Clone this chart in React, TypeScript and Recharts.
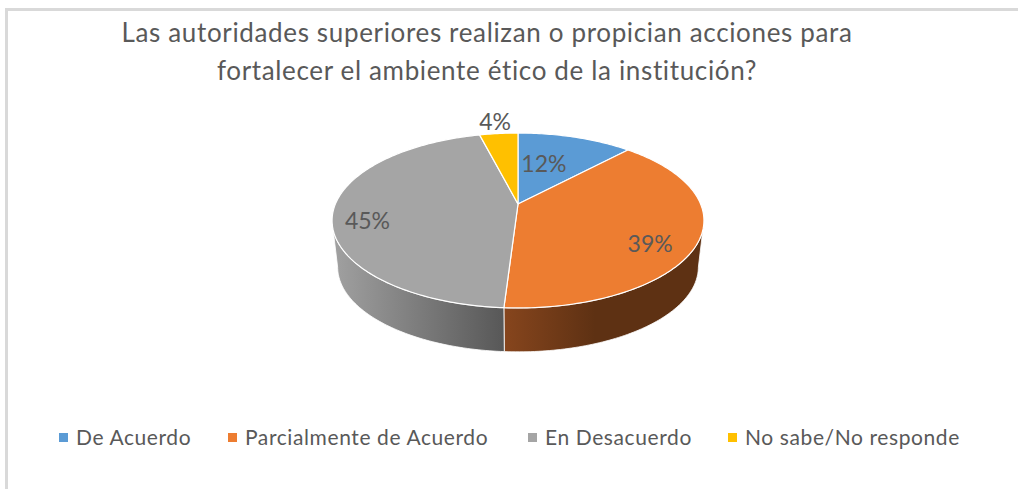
import { Legend, Pie, PieChart } from "recharts";

const categories = ["De Acuerdo", "Parcialmente de Acuerdo", "En Desacuerdo", "No sabe/No responde"];
const shares = [12, 39, 45, 4];
const sliceColors = ["#5b9bd5", "#ed7d31", "#a5a5a5", "#ffc000"];
const titleLines = [
  "Las autoridades superiores realizan o propician acciones para",
  "fortalecer el ambiente ético de la institución?",
];

const pieData = categories.map((name, i) => ({ name, value: shares[i], fill: sliceColors[i] }));

// where each percentage sits: along the radius (1 = rim), then nudged in pixels
const labelSpot: Record<string, { reach: number; dx: number; dy: number }> = {
  "De Acuerdo": { reach: 0.5, dx: -5, dy: -5 },
  "Parcialmente de Acuerdo": { reach: 0.75, dx: -1, dy: 12 },
  "En Desacuerdo": { reach: 0.8, dx: -3, dy: 10 },
  "No sabe/No responde": { reach: 1.17, dx: -1, dy: -3 },
};

const wallFill: Record<string, string> = {
  "Parcialmente de Acuerdo": "url(#wallOrange)",
  "En Desacuerdo": "url(#wallGray)",
};

const legendItemWidth: Record<string, number> = {
  "De Acuerdo": 169,
  "Parcialmente de Acuerdo": 300,
  "En Desacuerdo": 200,
  "No sabe/No responde": 240,
};

// tilted disc with perspective: the far edge is closer to the centre than the near one
const SQUASH = 0.462;
const PERSPECTIVE = 0.1886;
const DEPTH = 47;
const FLOOR_SCALE = 0.97;
// the rim turns out of sight at these clockwise angles from the top
const WALL_FROM = 101;
const WALL_TO = 259;

const textColor = "#595959";
const fontFamily = "Lato, 'Open Sans', sans-serif";

function project(cx: number, cy: number, radius: number, clockDeg: number, reach = 1) {
  const rad = (clockDeg * Math.PI) / 180;
  const u = reach * Math.sin(rad);
  const v = reach * Math.cos(rad);
  const d = 1 + PERSPECTIVE * v;
  return { x: cx + (radius * u) / d, y: cy - (radius * SQUASH * v) / d };
}

function arcPoints(cx: number, cy: number, radius: number, from: number, to: number) {
  const steps = Math.max(2, Math.ceil(Math.abs(to - from)));
  const pts = [];
  for (let i = 0; i <= steps; i++) {
    pts.push(project(cx, cy, radius, from + ((to - from) * i) / steps));
  }
  return pts;
}

const toPath = (pts: { x: number; y: number }[]) =>
  pts.map((p, i) => `${i ? "L" : "M"}${p.x.toFixed(2)},${p.y.toFixed(2)}`).join(" ");

function Slice3D(props: any) {
  const { cx, cy, outerRadius, startAngle, endAngle, fill, name } = props;
  const from = 90 - startAngle;
  const to = 90 - endAngle;
  const rim = arcPoints(cx, cy, outerRadius, from, to);

  const wallStart = Math.max(from, WALL_FROM);
  const wallEnd = Math.min(to, WALL_TO);
  let wall = null;
  if (wallEnd > wallStart) {
    const upper = arcPoints(cx, cy, outerRadius, wallStart, wallEnd);
    const lower = upper
      .map((p) => ({ x: cx + (p.x - cx) * FLOOR_SCALE, y: cy + (p.y - cy) * FLOOR_SCALE + DEPTH }))
      .reverse();
    wall = <path d={`${toPath(upper)} ${toPath(lower).replace("M", "L")} Z`} fill={wallFill[name]} stroke="#ffffff" strokeWidth={0.8} />;
  }

  return (
    <g>
      {wall}
      <path d={`M${cx},${cy} ${toPath(rim).replace("M", "L")} Z`} fill={fill} stroke="#ffffff" strokeWidth={1.2} strokeLinejoin="round" />
    </g>
  );
}

function renderShare(props: any) {
  const { cx, cy, outerRadius, midAngle, name, value } = props;
  const spot = labelSpot[name];
  const p = project(cx, cy, outerRadius, 90 - midAngle, spot.reach);
  return (
    <text x={p.x + spot.dx} y={p.y + spot.dy} textAnchor="middle" dominantBaseline="central" fill={textColor} fontSize={23} fontFamily={fontFamily}>
      {`${value}%`}
    </text>
  );
}

function renderLegend(props: any) {
  return (
    <div style={{ display: "flex", fontFamily, fontSize: 21, color: textColor, letterSpacing: 0.6, whiteSpace: "nowrap", lineHeight: "24px" }}>
      {props.payload.map((entry: any) => (
        <span key={entry.value} style={{ display: "inline-flex", alignItems: "center", width: legendItemWidth[entry.value] }}>
          <span style={{ width: 9, height: 9, marginRight: 8, background: entry.color }} />
          {entry.value}
        </span>
      ))}
    </div>
  );
}

export default function App() {
  return (
    <div style={{ position: "absolute", left: 0, top: 0, width: 1018, height: 489, background: "#ffffff", overflow: "hidden" }}>
      <div style={{ position: "absolute", left: 5, top: 8, width: 1013, height: 481, borderTop: "3px solid #d9d9d9", borderLeft: "3px solid #d9d9d9", boxSizing: "border-box" }} />
      <div
        style={{
          position: "absolute",
          left: 0,
          top: 13,
          width: 974,
          textAlign: "center",
          fontFamily,
          fontSize: 26,
          lineHeight: "38px",
          letterSpacing: 0.65,
          color: textColor,
          whiteSpace: "nowrap",
        }}
      >
        {titleLines.map((line) => (
          <div key={line}>{line}</div>
        ))}
      </div>
      <div style={{ position: "absolute", left: 0, top: 0 }}>
        <PieChart width={1018} height={489} margin={{ top: 0, right: 0, bottom: 0, left: 0 }}>
          <defs>
            <linearGradient id="wallGray" gradientUnits="userSpaceOnUse" x1="335" y1="0" x2="505" y2="0">
              <stop offset="0%" stopColor="#a0a0a0" />
              <stop offset="100%" stopColor="#575757" />
            </linearGradient>
            <linearGradient id="wallOrange" gradientUnits="userSpaceOnUse" x1="505" y1="0" x2="705" y2="0">
              <stop offset="0%" stopColor="#86451d" />
              <stop offset="45%" stopColor="#5e3113" />
              <stop offset="100%" stopColor="#5e3113" />
            </linearGradient>
          </defs>
          <Pie
            data={pieData}
            dataKey="value"
            nameKey="name"
            cx={518}
            cy={204}
            outerRadius={182.6}
            startAngle={90}
            endAngle={-270}
            isAnimationActive={false}
            shape={Slice3D}
            label={renderShare}
            labelLine={false}
          />
          <Legend content={renderLegend} itemSorter={null} wrapperStyle={{ left: 59, top: 425, width: 950 }} />
        </PieChart>
      </div>
    </div>
  );
}
